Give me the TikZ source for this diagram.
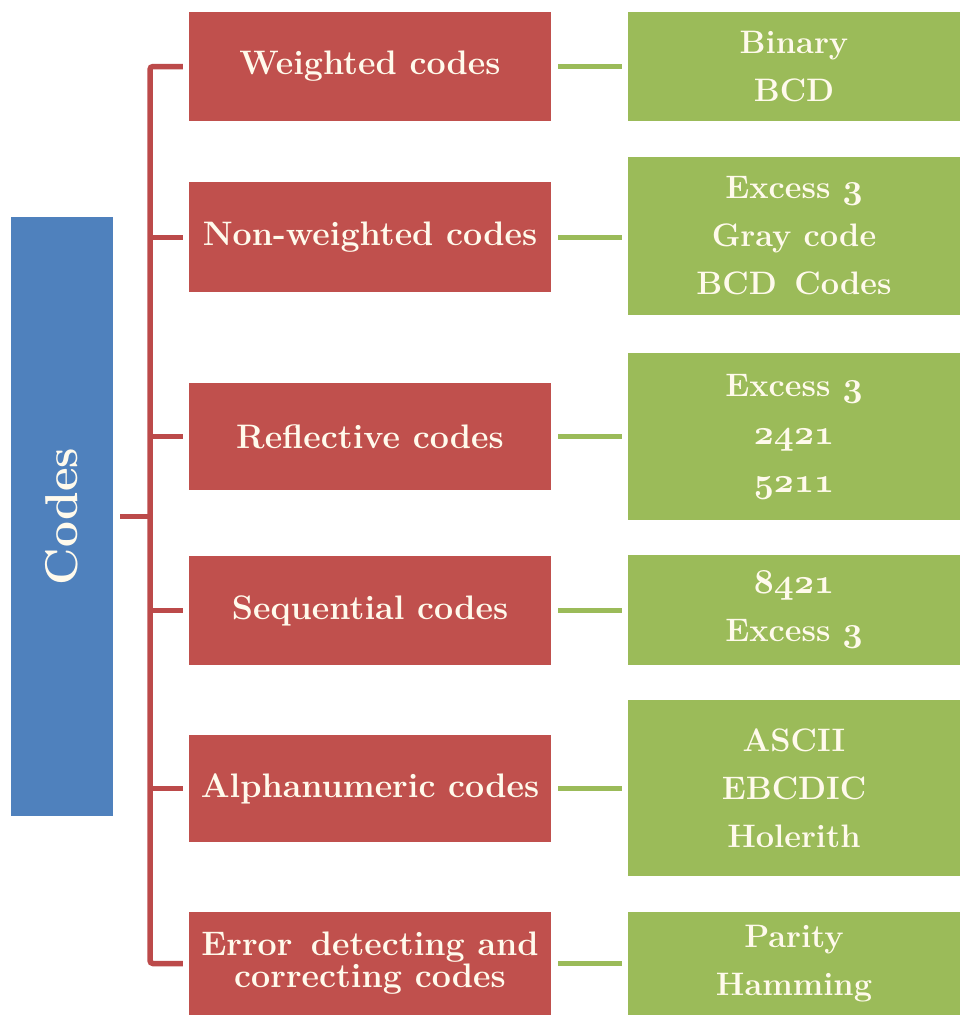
\documentclass[tikz,border=0pt]{standalone}
\usetikzlibrary{positioning}
\definecolor{catred}{HTML}{C0504D}
\definecolor{linkred}{HTML}{BC4A4A}
\definecolor{itemgreen}{HTML}{9BBB59}
\definecolor{rootblue}{HTML}{4F81BD}
\definecolor{cream}{RGB}{255,250,236}
% bold old-style figures, taken from the bold math italic font
\newcommand\osnum[1]{\scalebox{1.4}{\usefont{OML}{cmm}{b}{it}#1}}
\tikzset{
  rootbox/.style={fill=rootblue, draw=none, minimum width=102pt, minimum height=599pt,
    inner sep=0pt, text=cream, font=\bfseries\fontsize{46}{50}\selectfont},
  catbox/.style={fill=catred, draw=none, minimum width=362pt, inner sep=0pt,
    text=cream, align=center, font=\bfseries\fontsize{34}{32}\selectfont},
  itembox/.style={fill=itemgreen, draw=none, minimum width=332pt, inner sep=0pt,
    text=cream, align=center, font=\bfseries\fontsize{32.5}{48}\selectfont},
  spine/.style={draw=linkred, line width=5.5pt, rounded corners=3pt},
  twig/.style={draw=linkred, line width=5pt},
  leaf/.style={draw=itemgreen, line width=5pt, shorten <=7pt, shorten >=6pt}
}
\begin{document}
\begin{tikzpicture}[x=1pt, y=-1pt]
\useasboundingbox (0,0) rectangle (960,1015);

% root
\node[rootbox] (codes) at (62,516.5) {\rotatebox{90}{Codes}};

% categories
\node[catbox, minimum height=109pt] (r1) at (370,66.5)  {Weighted codes};
\node[catbox, minimum height=110pt] (r2) at (370,237)   {Non-weighted codes};
\node[catbox, minimum height=107pt] (r3) at (370,436.5) {Reflective codes};
\node[catbox, minimum height=109pt] (r4) at (370,610.5) {Sequential codes};
\node[catbox, minimum height=107pt] (r5) at (370,788.5) {Alphanumeric codes};
\node[catbox, minimum height=103pt] (r6) at (370,963.5) {Error\, detecting and\\correcting codes};

% examples
\node[itembox, minimum height=109pt] (g1) at (794,66.5)  {Binary\\BCD};
\node[itembox, minimum height=158pt] (g2) at (794,236)   {Excess \osnum{3}\\Gray code\\BCD\, Codes};
\node[itembox, minimum height=167pt] (g3) at (794,436.5) {Excess \osnum{3}\\\osnum{2421}\\\osnum{5211}};
\node[itembox, minimum height=110pt] (g4) at (794,610)   {\osnum{8421}\\Excess \osnum{3}};
\node[itembox, minimum height=176pt] (g5) at (794,788)   {ASCII\\EBCDIC\\Holerith};
\node[itembox, minimum height=103pt] (g6) at (794,963.5) {Parity\\Hamming};

% spine of the tree
\coordinate (sp) at (150,0);
\draw[spine] ([xshift=-6pt]r1.west) -- (r1.west -| sp) -- (r6.west -| sp) -- ([xshift=-6pt]r6.west);
\foreach \r in {r2,r3,r4,r5}
  \draw[twig] (\r.west -| sp) -- ([xshift=-6pt]\r.west);
\draw[twig] ([xshift=7pt]codes.east) -- (codes.east -| sp);

% links to examples
\foreach \i in {1,...,6}
  \draw[leaf] (r\i.east) -- (r\i.east -| g\i.west);
\end{tikzpicture}
\end{document}
